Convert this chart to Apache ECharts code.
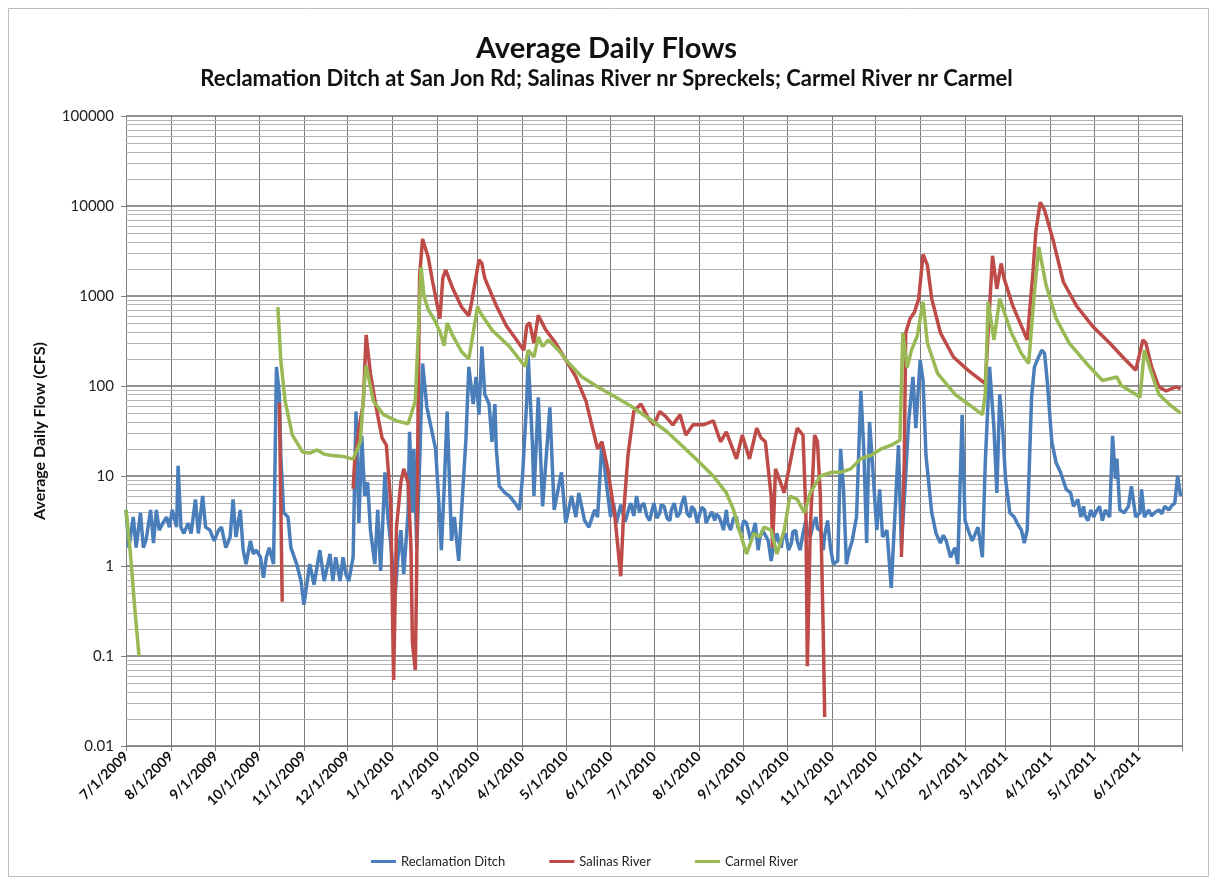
<!DOCTYPE html>
<html>
<head>
<meta charset="utf-8">
<title>Average Daily Flows</title>
<script src="https://cdn.jsdelivr.net/npm/echarts@6/dist/echarts.min.js"></script>
<style>
  html, body { margin: 0; padding: 0; background: #ffffff; }
  #chart { width: 1213px; height: 882px; }
</style>
</head>
<body>
<div id="chart"></div>
<script>
// Daily mean discharge (cfs). A null entry marks a break where the gauge reported no flow.
const reclamationDitch = [
  ['2009-07-01',4.2],['2009-07-03',1.6],['2009-07-06',3.5],['2009-07-08',1.6],['2009-07-11',3.9],['2009-07-13',1.6],
  ['2009-07-15',2.0],['2009-07-18',4.2],['2009-07-20',1.8],['2009-07-22',4.2],['2009-07-24',2.5],['2009-07-26',2.9],
  ['2009-07-29',3.5],['2009-07-31',2.7],['2009-08-02',4.2],['2009-08-05',2.7],['2009-08-06',13],['2009-08-08',2.7],
  ['2009-08-10',2.3],['2009-08-13',3.0],['2009-08-15',2.3],['2009-08-18',5.5],['2009-08-20',2.3],['2009-08-23',6.0],
  ['2009-08-25',2.7],['2009-08-28',2.5],['2009-08-31',1.9],['2009-09-03',2.5],['2009-09-05',2.7],['2009-09-08',1.6],
  ['2009-09-11',2.1],['2009-09-13',5.5],['2009-09-15',2.1],['2009-09-18',4.2],['2009-09-20',1.5],['2009-09-22',1.05],
  ['2009-09-25',1.9],['2009-09-27',1.36],['2009-09-29',1.5],['2009-10-02',1.25],['2009-10-04',0.74],['2009-10-06',1.25],
  ['2009-10-08',1.6],['2009-10-11',1.05],['2009-10-13',163],['2009-10-15',81],['2009-10-16',17],['2009-10-18',3.9],
  ['2009-10-21',3.5],['2009-10-23',1.6],['2009-10-27',1.05],['2009-10-30',0.68],['2009-11-01',0.37],['2009-11-05',1.05],
  ['2009-11-08',0.62],['2009-11-12',1.5],['2009-11-15',0.68],['2009-11-19',1.36],['2009-11-21',0.68],['2009-11-23',1.25],
  ['2009-11-26',0.68],['2009-11-28',1.25],['2009-11-30',0.81],['2009-12-02',0.68],['2009-12-05',1.25],['2009-12-07',52],
  ['2009-12-09',3.0],['2009-12-11',28],['2009-12-13',6.0],['2009-12-15',8.5],['2009-12-17',2.5],['2009-12-20',1.05],
  ['2009-12-22',4.2],['2009-12-24',0.88],['2009-12-27',11],['2009-12-29',3.5],['2009-12-31',1.8],['2010-01-03',0.48],
  ['2010-01-05',1.25],['2010-01-07',2.5],['2010-01-09',0.81],['2010-01-12',3.9],['2010-01-13',31],['2010-01-15',3.9],
  ['2010-01-16',20],['2010-01-18',1.6],['2010-01-20',14],['2010-01-22',178],['2010-01-25',58],['2010-01-28',34],
  ['2010-01-31',20],['2010-02-02',6.0],['2010-02-04',1.5],['2010-02-06',7.7],['2010-02-08',52],['2010-02-11',1.9],
  ['2010-02-13',3.5],['2010-02-16',1.14],['2010-02-19',7.7],['2010-02-21',26],['2010-02-23',163],['2010-02-26',63],
  ['2010-02-28',126],['2010-03-02',48],['2010-03-04',275],['2010-03-06',81],['2010-03-09',63],['2010-03-11',24],
  ['2010-03-13',63],['2010-03-14',20],['2010-03-16',7.7],['2010-03-20',6.5],['2010-03-23',6.0],['2010-03-27',5.0],
  ['2010-03-30',4.2],['2010-04-01',9.3],['2010-04-04',68],['2010-04-05',220],['2010-04-08',22],['2010-04-09',6.0],
  ['2010-04-12',75],['2010-04-15',4.6],['2010-04-20',58],['2010-04-23',4.2],['2010-04-28',11],['2010-05-01',3.0],
  ['2010-05-05',6.0],['2010-05-08',3.5],['2010-05-10',6.5],['2010-05-14',3.2],['2010-05-17',2.7],['2010-05-21',4.2],
  ['2010-05-23',3.5],['2010-05-26',24],['2010-05-29',8.5],['2010-06-01',3.5],['2010-06-02',4.4],['2010-06-03',5.0],
  ['2010-06-05',3.0],['2010-06-06',3.5],['2010-06-08',4.8],['2010-06-09',5.0],['2010-06-11',3.1],['2010-06-12',3.5],
  ['2010-06-14',4.6],['2010-06-15',5.0],['2010-06-17',3.6],['2010-06-19',6.0],['2010-06-21',3.9],['2010-06-22',4.6],
  ['2010-06-24',5.0],['2010-06-26',3.6],['2010-06-28',3.2],['2010-06-30',4.4],['2010-07-01',5.0],['2010-07-03',3.4],
  ['2010-07-05',3.9],['2010-07-06',4.8],['2010-07-08',4.6],['2010-07-10',3.4],['2010-07-12',3.2],['2010-07-13',4.2],
  ['2010-07-15',5.0],['2010-07-17',3.5],['2010-07-19',3.9],['2010-07-20',4.8],['2010-07-22',6.0],['2010-07-24',3.8],
  ['2010-07-26',3.5],['2010-07-27',4.6],['2010-07-29',4.2],['2010-07-31',3.0],['2010-08-01',3.5],['2010-08-03',4.5],
  ['2010-08-05',4.2],['2010-08-06',3.0],['2010-08-08',3.5],['2010-08-10',4.0],['2010-08-12',3.2],['2010-08-13',3.8],
  ['2010-08-15',3.5],['2010-08-17',2.9],['2010-08-18',2.5],['2010-08-20',4.2],['2010-08-21',3.0],['2010-08-23',2.5],
  ['2010-08-25',3.4],['2010-08-27',3.5],['2010-08-28',2.7],['2010-08-30',2.3],['2010-09-01',3.2],['2010-09-03',3.0],
  ['2010-09-05',2.2],['2010-09-06',1.9],['2010-09-08',2.6],['2010-09-09',3.0],['2010-09-11',1.5],['2010-09-12',2.0],
  ['2010-09-14',2.5],['2010-09-16',2.2],['2010-09-18',1.9],['2010-09-20',1.14],['2010-09-22',1.8],['2010-09-24',2.3],
  ['2010-09-25',1.9],['2010-09-27',1.6],['2010-09-28',2.1],['2010-09-30',2.3],['2010-10-02',1.5],['2010-10-04',1.8],
  ['2010-10-05',2.4],['2010-10-07',2.5],['2010-10-08',1.9],['2010-10-10',1.5],['2010-10-12',2.3],['2010-10-14',3.2],
  ['2010-10-15',2.4],['2010-10-17',2.1],['2010-10-19',2.9],['2010-10-21',3.5],['2010-10-22',2.6],['2010-10-24',2.5],
  ['2010-10-26',1.5],['2010-10-27',2.2],['2010-10-29',3.2],['2010-10-31',1.6],['2010-11-02',1.05],['2010-11-05',1.14],
  ['2010-11-07',20],['2010-11-09',7.1],['2010-11-11',1.05],['2010-11-13',1.5],['2010-11-15',1.9],['2010-11-18',3.5],
  ['2010-11-21',88],['2010-11-23',20],['2010-11-25',1.8],['2010-11-27',40],['2010-11-29',14],['2010-12-02',2.5],
  ['2010-12-04',7.1],['2010-12-06',2.1],['2010-12-09',2.5],['2010-12-12',0.57],['2010-12-14',2.5],['2010-12-17',22],
  ['2010-12-19',1.6],['2010-12-22',10],['2010-12-24',40],['2010-12-27',126],['2010-12-29',34],['2011-01-01',195],
  ['2011-01-03',115],['2011-01-05',17],['2011-01-09',3.9],['2011-01-12',2.3],['2011-01-15',1.8],['2011-01-17',2.2],
  ['2011-01-19',1.9],['2011-01-22',1.25],['2011-01-25',1.6],['2011-01-27',1.05],['2011-01-30',48],['2011-02-01',3.2],
  ['2011-02-04',2.3],['2011-02-06',1.9],['2011-02-10',2.7],['2011-02-13',1.25],['2011-02-15',14],['2011-02-18',163],
  ['2011-02-21',34],['2011-02-23',6.5],['2011-02-25',81],['2011-02-27',34],['2011-03-01',9.3],['2011-03-04',3.9],
  ['2011-03-07',3.5],['2011-03-09',3.0],['2011-03-12',2.5],['2011-03-14',1.8],['2011-03-16',2.5],['2011-03-19',75],
  ['2011-03-21',163],['2011-03-23',195],['2011-03-26',250],['2011-03-28',230],['2011-03-30',106],['2011-04-02',24],
  ['2011-04-05',14],['2011-04-08',11],['2011-04-12',7.1],['2011-04-15',6.5],['2011-04-17',4.6],['2011-04-20',5.5],
  ['2011-04-22',3.5],['2011-04-24',4.6],['2011-04-25',3.6],['2011-04-27',3.2],['2011-04-29',4.2],['2011-05-01',3.5],
  ['2011-05-03',4.1],['2011-05-05',4.6],['2011-05-07',3.2],['2011-05-09',4.2],['2011-05-12',3.5],['2011-05-14',28],
  ['2011-05-16',9.3],['2011-05-17',15.6],['2011-05-19',4.2],['2011-05-22',3.9],['2011-05-25',4.6],['2011-05-27',7.7],
  ['2011-05-30',3.5],['2011-06-02',3.9],['2011-06-03',7.1],['2011-06-05',3.5],['2011-06-08',4.2],['2011-06-10',3.6],
  ['2011-06-12',3.9],['2011-06-15',4.2],['2011-06-17',3.8],['2011-06-19',4.6],['2011-06-22',4.2],['2011-06-24',4.7],
  ['2011-06-26',5.0],['2011-06-28',10],['2011-06-30',6.0]
];

const salinasRiver = [
  ['2009-10-15',65],['2009-10-17',0.4],['2009-10-18',null],
  ['2009-12-05',7.2],['2009-12-06',14],['2009-12-09',34],['2009-12-12',63],['2009-12-14',370],['2009-12-17',137],
  ['2009-12-21',57],['2009-12-25',26.5],['2009-12-28',22],['2009-12-31',5],['2010-01-01',0.5],['2010-01-02',0.054],
  ['2010-01-04',2.7],['2010-01-07',8.5],['2010-01-09',12],['2010-01-12',8.5],['2010-01-14',1.6],['2010-01-15',0.14],
  ['2010-01-17',0.07],['2010-01-18',1.05],['2010-01-19',81],['2010-01-20',1700],['2010-01-22',4300],['2010-01-26',2660],
  ['2010-01-29',1430],['2010-02-03',560],['2010-02-05',1580],['2010-02-07',1950],['2010-02-12',1200],['2010-02-18',754],
  ['2010-02-23',600],['2010-02-25',860],['2010-03-02',2530],['2010-03-04',2300],['2010-03-06',1580],['2010-03-14',780],
  ['2010-03-21',465],['2010-03-28',325],['2010-04-02',250],['2010-04-04',465],['2010-04-06',505],['2010-04-09',300],
  ['2010-04-12',610],['2010-04-17',425],['2010-04-24',300],['2010-05-01',195],['2010-05-08',126],['2010-05-15',68],
  ['2010-05-23',20],['2010-05-26',24],['2010-05-30',12],['2010-06-04',3.5],['2010-06-08',0.77],['2010-06-10',3.9],
  ['2010-06-13',17],['2010-06-17',52],['2010-06-22',63],['2010-06-27',44],['2010-07-01',37],['2010-07-05',52],
  ['2010-07-09',46],['2010-07-14',37],['2010-07-19',48],['2010-07-23',28.5],['2010-07-28',37],['2010-08-04',37],
  ['2010-08-11',41],['2010-08-16',24],['2010-08-20',31],['2010-08-27',15.5],['2010-08-31',28.5],['2010-09-05',15.5],
  ['2010-09-10',34],['2010-09-13',26.5],['2010-09-16',24],['2010-09-20',6],['2010-09-21',1.6],['2010-09-23',12],
  ['2010-09-29',6.5],['2010-10-05',20],['2010-10-08',34],['2010-10-12',28.5],['2010-10-14',3.9],['2010-10-15',0.077],
  ['2010-10-17',2.5],['2010-10-20',28.5],['2010-10-22',24],['2010-10-24',6],['2010-10-26',0.18],['2010-10-27',0.021],
  ['2010-10-28',null],
  ['2010-12-19',1.26],['2010-12-21',14],['2010-12-22',390],['2010-12-25',560],['2010-12-28',660],['2010-12-31',930],
  ['2011-01-03',2900],['2011-01-06',2200],['2011-01-09',930],['2011-01-15',390],['2011-01-24',210],['2011-02-03',150],
  ['2011-02-15',106],['2011-02-17',390],['2011-02-20',2800],['2011-02-23',1200],['2011-02-26',2300],['2011-02-28',1570],
  ['2011-03-06',780],['2011-03-13',425],['2011-03-16',325],['2011-03-20',1850],['2011-03-22',5300],['2011-03-25',11000],
  ['2011-03-28',9000],['2011-04-03',4100],['2011-04-10',1430],['2011-04-19',780],['2011-04-30',465],['2011-05-12',300],
  ['2011-05-21',210],['2011-05-30',150],['2011-06-04',325],['2011-06-06',300],['2011-06-10',163],['2011-06-15',98],
  ['2011-06-20',88],['2011-06-27',98],['2011-06-30',93]
];

const carmelRiver = [
  ['2009-07-01',4.2],['2009-07-04',1.4],['2009-07-07',0.35],['2009-07-10',0.1],['2009-07-11',null],
  ['2009-10-14',754],['2009-10-16',194],['2009-10-19',68],['2009-10-24',28.5],['2009-10-31',18.5],['2009-11-05',18],
  ['2009-11-10',19.5],['2009-11-15',17.5],['2009-11-19',17],['2009-11-28',16.5],['2009-12-05',15.4],['2009-12-10',24],
  ['2009-12-13',117],['2009-12-14',170],['2009-12-19',68],['2009-12-26',48],['2010-01-04',41],['2010-01-12',38],
  ['2010-01-17',68],['2010-01-21',2100],['2010-01-23',1000],['2010-01-26',700],['2010-01-30',550],['2010-02-03',400],
  ['2010-02-06',280],['2010-02-08',500],['2010-02-12',360],['2010-02-18',240],['2010-02-23',200],['2010-03-01',760],
  ['2010-03-03',650],['2010-03-11',420],['2010-03-23',275],['2010-04-01',180],['2010-04-03',165],['2010-04-05',250],
  ['2010-04-09',210],['2010-04-12',350],['2010-04-15',275],['2010-04-19',325],['2010-04-26',250],['2010-05-03',180],
  ['2010-05-12',127],['2010-05-23',98],['2010-05-28',88],['2010-06-04',76],['2010-06-15',60],['2010-06-28',43],
  ['2010-07-10',31],['2010-07-20',22],['2010-07-31',15],['2010-08-11',10],['2010-08-20',6.5],['2010-08-25',4.2],
  ['2010-08-29',2.5],['2010-09-03',1.36],['2010-09-08',2.3],['2010-09-12',2.1],['2010-09-15',2.7],['2010-09-20',2.5],
  ['2010-09-24',1.36],['2010-09-29',2.5],['2010-10-03',6],['2010-10-08',5.5],['2010-10-13',3.9],['2010-10-17',6.5],
  ['2010-10-24',10],['2010-11-01',11],['2010-11-07',11],['2010-11-14',12],['2010-11-21',15.6],['2010-11-28',17],
  ['2010-12-05',20],['2010-12-12',22],['2010-12-18',25],['2010-12-20',390],['2010-12-23',160],['2010-12-26',250],
  ['2010-12-30',360],['2011-01-03',860],['2011-01-06',300],['2011-01-13',138],['2011-01-25',81],['2011-02-05',60],
  ['2011-02-13',48],['2011-02-15',81],['2011-02-17',860],['2011-02-21',325],['2011-02-25',930],['2011-03-05',390],
  ['2011-03-12',230],['2011-03-17',178],['2011-03-21',1100],['2011-03-24',3500],['2011-03-29',1330],['2011-04-05',560],
  ['2011-04-14',300],['2011-04-26',178],['2011-05-07',115],['2011-05-17',126],['2011-05-20',101],['2011-05-30',81],
  ['2011-06-02',75],['2011-06-05',250],['2011-06-10',138],['2011-06-15',81],['2011-06-22',63],['2011-06-30',50]
];

const seriesNames = ['Reclamation Ditch', 'Salinas River', 'Carmel River'];
const seriesColors = ['#4a7ebb', '#be4b48', '#98b954'];
const yTickLabels = ['0.01', '0.1', '1', '10', '100', '1000', '10000', '100000'];
const startDate = '2009-07-01';
const endDate = '2011-07-01';

// Minor horizontal rules at 2..9 within every decade of the log axis.
const minorRules = [];
for (let e = -2; e <= 4; e++) {
  for (let m = 2; m <= 9; m++) {
    minorRules.push({ yAxis: Number((m * Math.pow(10, e)).toPrecision(3)) });
  }
}

const FONT = 'Lato, "Open Sans", sans-serif';
const endTime = echarts.time.parse(endDate).getTime();
const chart = echarts.init(document.getElementById('chart'), null, { renderer: 'canvas' });

const lineSeries = [reclamationDitch, salinasRiver, carmelRiver].map((data, i) => ({
  name: seriesNames[i],
  type: 'line',
  data: data,
  symbol: 'none',
  showSymbol: false,
  connectNulls: false,
  smooth: false,
  z: 3 + i,
  lineStyle: { color: seriesColors[i], width: 3.5 },
  itemStyle: { color: seriesColors[i] },
  animation: false
}));

lineSeries[0].markLine = {
  silent: true,
  symbol: ['none', 'none'],
  z: 1,
  label: { show: false },
  emphasis: { disabled: true },
  lineStyle: { color: '#b3b3b3', width: 1, type: 'solid' },
  animation: false,
  data: minorRules
};

chart.setOption({
  backgroundColor: '#ffffff',
  animation: false,
  title: [
    {
      text: 'Average Daily Flows',
      left: 'center',
      top: 29,
      textStyle: { fontFamily: FONT, fontSize: 29, fontWeight: 'bold', color: '#111' }
    },
    {
      text: 'Reclamation Ditch at San Jon Rd; Salinas River nr Spreckels; Carmel River nr Carmel',
      left: 'center',
      top: 63,
      textStyle: { fontFamily: FONT, fontSize: 22, fontWeight: 'bold', color: '#111' }
    }
  ],
  graphic: [{
    type: 'rect',
    silent: true,
    shape: { x: 8.5, y: 8.5, width: 1200, height: 868 },
    style: { fill: 'none', stroke: '#bdbdbd', lineWidth: 1 }
  }],
  legend: {
    data: seriesNames,
    left: 366,
    top: 850,
    icon: 'rect',
    itemWidth: 25,
    itemHeight: 3,
    itemGap: 44,
    textStyle: { fontFamily: FONT, fontSize: 13, color: '#222' }
  },
  grid: { left: 126, right: 31, top: 116, bottom: 136, containLabel: false },
  xAxis: {
    type: 'time',
    min: startDate,
    max: endDate,
    splitNumber: 24,
    minInterval: 28 * 86400000,
    maxInterval: 31 * 86400000,
    axisLine: { show: true, lineStyle: { color: '#7f7f7f', width: 1 } },
    axisTick: { show: true, length: 5, lineStyle: { color: '#7f7f7f' } },
    splitLine: { show: true, lineStyle: { color: '#7a7a7a', width: 1 } },
    axisLabel: {
      rotate: 45,
      margin: 8,
      showMinLabel: true,
      fontFamily: FONT,
      fontSize: 14,
      fontWeight: 'bold',
      color: '#111',
      formatter: function (val) {
        if (val >= endTime) return '';
        const d = new Date(val);
        return (d.getMonth() + 1) + '/' + d.getDate() + '/' + d.getFullYear();
      }
    }
  },
  yAxis: {
    type: 'log',
    logBase: 10,
    min: 0.01,
    max: 100000,
    splitNumber: 7,
    name: 'Average Daily Flow (CFS)',
    nameLocation: 'middle',
    nameGap: 78,
    nameTextStyle: { fontFamily: FONT, fontSize: 16, fontWeight: 'bold', color: '#111' },
    axisLine: { show: true, lineStyle: { color: '#7f7f7f', width: 1 } },
    axisTick: { show: true, length: 5, lineStyle: { color: '#7f7f7f' } },
    splitLine: { show: true, lineStyle: { color: '#6e6e6e', width: 1.5 } },
    minorTick: { show: false },
    axisLabel: {
      margin: 12,
      fontFamily: FONT,
      fontSize: 15,
      color: '#222',
      formatter: function (v) {
        const k = Math.round(Math.log10(v)) + 2;
        return yTickLabels[k] !== undefined ? yTickLabels[k] : '';
      }
    }
  },
  series: lineSeries
});
</script>
</body>
</html>
